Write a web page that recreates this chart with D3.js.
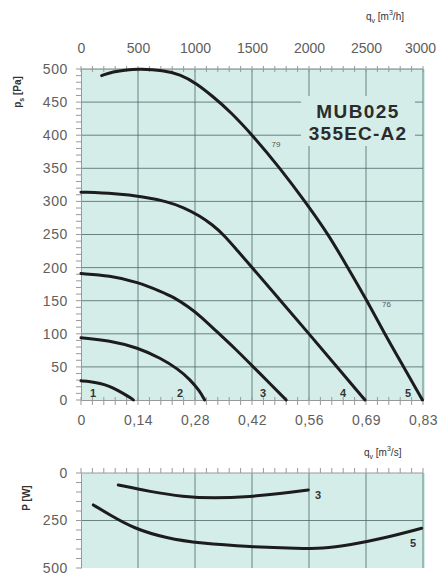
<!DOCTYPE html>
<html>
<head>
<meta charset="utf-8">
<script src="https://cdn.jsdelivr.net/npm/d3@7"></script>
<style>
html,body{margin:0;padding:0;background:#fff;}
svg{display:block;}
text{font-family:"Liberation Sans",Arial,sans-serif;}
</style>
</head>
<body>
<svg id="chart" width="438" height="584"></svg>
<script>
// ---- data ----
const flowTicksH = [0, 500, 1000, 1500, 2000, 2500, 3000];          // m3/h (top axis)
const flowTickLabelsS = ["0", "0,14", "0,28", "0,42", "0,56", "0,69", "0,83"]; // m3/s (bottom axis)
const pressureTicks = [0, 50, 100, 150, 200, 250, 300, 350, 400, 450, 500];
const powerTicks = [0, 250, 500];

// pressure curves: [q m3/h, ps Pa]
const curve1 = [[0,29],[80,28],[167,25],[250,21],[316,15],[390,8],[447,2],[460,0]];
const curve2 = [[0,94],[250,90],[500,79],[700,63],[850,47],[956,31],[1040,14],[1085,0]];
const curve3 = [[0,191],[250,188],[500,178],[700,164],[807,156],[950,140],[1044,127],[1193,103],[1350,78],[1500,52],[1650,26],[1800,0]];
const curve4 = [[0,314],[300,312],[550,307],[750,300],[900,291],[1044,278],[1150,265],[1250,250],[1370,226],[1482,204],[1740,152],[1995,101],[2245,50],[2491,0]];
const curve5 = [[181,490],[281,496],[400,499],[518,500],[720,498],[868,492],[1015,478],[1160,458],[1307,436],[1510,399],[1746,350],[1965,300],[2170,250],[2330,203],[2506,151],[2660,101],[2830,50],[2995,0]];
const pressureCurves = [curve1, curve2, curve3, curve4, curve5];
const curveNames = ["1","2","3","4","5"];
const curveLabelPos = [[105,5],[868,5],[1596,5],[2298,5],[2868,5]]; // [q, ps] label anchor

// power curves: [q m3/h, P W]
const power3 = [[327,63],[605,98],[897,125],[1161,133],[1482,125],[1775,107],[1994,89]];
const power5 = [[108,168],[254,221],[459,291],[752,344],[1044,370],[1482,388],[1921,397],[2111,399],[2360,379],[2652,344],[2988,291]];
const powerCurves = [power3, power5];
const powerNames = ["3","5"];
const powerLabelPos = [[2080,135],[2912,390]];

// efficiency markers
const effLabels = [["79",1710,382],["76",2680,140]];

// ---- layout ----
const svg = d3.select("#chart");
const bg = "#d5ede8", gridCol = "#4c6868", labelCol = "#606060";
const x = d3.scaleLinear().domain([0,3000]).range([81,423]);
const y = d3.scaleLinear().domain([0,500]).range([400,69]);
const yP = d3.scaleLinear().domain([0,500]).range([473,568]);

// ---- top chart ----
svg.append("rect").attr("x",x(0)).attr("y",y(500)).attr("width",x(3000)-x(0)+2).attr("height",y(0)-y(500)).attr("fill",bg);

const gTop = svg.append("g");
gTop.selectAll("line.h").data(pressureTicks.slice(1)).join("line")
  .attr("x1",x(0)).attr("x2",x(3000)).attr("y1",d=>y(d)).attr("y2",d=>y(d))
  .attr("stroke",gridCol).attr("stroke-width",1).attr("opacity",0.8);
gTop.selectAll("line.v").data(flowTicksH.slice(1)).join("line")
  .attr("x1",d=>x(d)).attr("x2",d=>x(d)).attr("y1",y(500)).attr("y2",y(0))
  .attr("stroke",gridCol).attr("stroke-width",1).attr("opacity",0.8);

// axes
const axLeft = d3.axisLeft(y).tickValues(pressureTicks).tickSize(0).tickPadding(13).tickFormat(d3.format("d"));
const gl = svg.append("g").attr("transform",`translate(${x(0)},0)`).call(axLeft);
gl.select(".domain").attr("stroke","#999");
gl.selectAll("text").attr("font-size",14).attr("fill",labelCol).attr("letter-spacing",0.6);
svg.append("g").selectAll("line").data(d3.range(0,501,10)).join("line")
  .attr("x1",x(0)-5).attr("x2",x(0)).attr("y1",d=>y(d)).attr("y2",d=>y(d))
  .attr("stroke","#999").attr("stroke-width",1);

const axTop = d3.axisTop(x).tickValues(flowTicksH).tickSize(0).tickPadding(16).tickFormat(d3.format("d"));
const gt = svg.append("g").attr("transform",`translate(0,${y(500)})`).call(axTop);
gt.select(".domain").attr("stroke","#aaa");
gt.selectAll("text").attr("font-size",14).attr("fill",labelCol)
  .attr("dx",(d,i)=> i===flowTicksH.length-1 ? -3 : 0);
svg.append("g").selectAll("line").data(d3.range(0,3001,100)).join("line")
  .attr("x1",d=>x(d)).attr("x2",d=>x(d)).attr("y1",y(500)-3).attr("y2",y(500)+3)
  .attr("stroke","#999").attr("stroke-width",1);

const axBottom = d3.axisBottom(x).tickValues(flowTicksH).tickSize(0).tickPadding(15)
  .tickFormat((d,i)=>flowTickLabelsS[i]);
const gb = svg.append("g").attr("transform",`translate(0,${y(0)})`).call(axBottom);
gb.select(".domain").attr("stroke","#999");
gb.selectAll("text").attr("font-size",14).attr("fill",labelCol).attr("letter-spacing",0.4);
svg.append("g").selectAll("line").data(d3.range(0,3001,100)).join("line")
  .attr("x1",d=>x(d)).attr("x2",d=>x(d)).attr("y1",y(0)-3).attr("y2",y(0)+5)
  .attr("stroke","#999").attr("stroke-width",1);

// title box
svg.append("rect").attr("x",301).attr("y",96).attr("width",114).attr("height",50).attr("fill",bg);
svg.append("text").attr("x",358).attr("y",118).attr("text-anchor","middle")
  .attr("font-size",19).attr("font-weight","bold").attr("letter-spacing",1.4).attr("fill","#2b2b2b").text("MUB025");
svg.append("text").attr("x",358).attr("y",140).attr("text-anchor","middle")
  .attr("font-size",19).attr("font-weight","bold").attr("letter-spacing",1.2).attr("fill","#2b2b2b").text("355EC-A2");

// pressure curves
const line = d3.line().x(d=>x(d[0])).y(d=>y(d[1])).curve(d3.curveBasis);
svg.append("g").selectAll("path").data(pressureCurves).join("path")
  .attr("d",line).attr("fill","none").attr("stroke","#1c1c1c").attr("stroke-width",3).attr("stroke-linecap","round");
svg.append("g").selectAll("text").data(curveNames).join("text")
  .attr("x",(d,i)=>x(curveLabelPos[i][0])).attr("y",(d,i)=>y(curveLabelPos[i][1]))
  .attr("font-size",11).attr("font-weight","bold").attr("fill","#333").attr("text-anchor","middle").text(d=>d);
svg.append("g").selectAll("text").data(effLabels).join("text")
  .attr("x",d=>x(d[1])).attr("y",d=>y(d[2])).attr("font-size",8).attr("fill","#555").attr("text-anchor","middle").text(d=>d[0]);

// axis titles
const ps = svg.append("text").attr("transform","translate(21,92) rotate(-90)").attr("text-anchor","middle")
  .attr("font-size",10).attr("font-weight","bold").attr("fill","#333");
ps.append("tspan").text("p");
ps.append("tspan").attr("dy",3).attr("font-size",7).text("s");
ps.append("tspan").attr("dy",-3).text(" [Pa]");

const qh = svg.append("text").attr("x",366).attr("y",20).attr("font-size",10).attr("fill","#333");
qh.append("tspan").text("q");
qh.append("tspan").attr("dy",3).attr("font-size",7).text("v");
qh.append("tspan").attr("dy",-3).text(" [m");
qh.append("tspan").attr("dy",-5).attr("font-size",7).text("3");
qh.append("tspan").attr("dy",5).text("/h]");

// ---- bottom chart ----
svg.append("rect").attr("x",x(0)).attr("y",yP(0)).attr("width",x(3000)-x(0)+2).attr("height",yP(500)-yP(0)).attr("fill",bg);
svg.append("g").selectAll("line").data([250]).join("line")
  .attr("x1",x(0)).attr("x2",x(3000)).attr("y1",d=>yP(d)).attr("y2",d=>yP(d))
  .attr("stroke",gridCol).attr("stroke-width",1).attr("opacity",0.8);
svg.append("g").selectAll("line").data(flowTicksH.slice(1)).join("line")
  .attr("x1",d=>x(d)).attr("x2",d=>x(d)).attr("y1",yP(0)).attr("y2",yP(500))
  .attr("stroke",gridCol).attr("stroke-width",1).attr("opacity",0.8);

const axP = d3.axisLeft(yP).tickValues(powerTicks).tickSize(0).tickPadding(13).tickFormat(d3.format("d"));
const gp = svg.append("g").attr("transform",`translate(${x(0)},0)`).call(axP);
gp.select(".domain").attr("stroke","#999");
gp.selectAll("text").attr("font-size",14).attr("fill",labelCol).attr("letter-spacing",0.6);
svg.append("g").selectAll("line").data(d3.range(0,501,50)).join("line")
  .attr("x1",x(0)-5).attr("x2",x(0)).attr("y1",d=>yP(d)).attr("y2",d=>yP(d))
  .attr("stroke","#999").attr("stroke-width",1);
svg.append("line").attr("x1",x(0)).attr("x2",x(3000)).attr("y1",yP(0)).attr("y2",yP(0)).attr("stroke","#999");
svg.append("g").selectAll("line").data(d3.range(0,3001,100)).join("line")
  .attr("x1",d=>x(d)).attr("x2",d=>x(d)).attr("y1",yP(0)-5).attr("y2",yP(0))
  .attr("stroke","#999").attr("stroke-width",1);

const lineP = d3.line().x(d=>x(d[0])).y(d=>yP(d[1])).curve(d3.curveBasis);
svg.append("g").selectAll("path").data(powerCurves).join("path")
  .attr("d",lineP).attr("fill","none").attr("stroke","#1c1c1c").attr("stroke-width",3).attr("stroke-linecap","round");
svg.append("g").selectAll("text").data(powerNames).join("text")
  .attr("x",(d,i)=>x(powerLabelPos[i][0])).attr("y",(d,i)=>yP(powerLabelPos[i][1]))
  .attr("font-size",11).attr("font-weight","bold").attr("fill","#333").attr("text-anchor","middle").text(d=>d);

svg.append("text").attr("transform","translate(30,498) rotate(-90)").attr("text-anchor","middle")
  .attr("font-size",10).attr("font-weight","bold").attr("fill","#333").text("P [W]");

const qs = svg.append("text").attr("x",364).attr("y",456).attr("font-size",10).attr("fill","#333");
qs.append("tspan").text("q");
qs.append("tspan").attr("dy",3).attr("font-size",7).text("v");
qs.append("tspan").attr("dy",-3).text(" [m");
qs.append("tspan").attr("dy",-5).attr("font-size",7).text("3");
qs.append("tspan").attr("dy",5).text("/s]");
</script>
</body>
</html>
